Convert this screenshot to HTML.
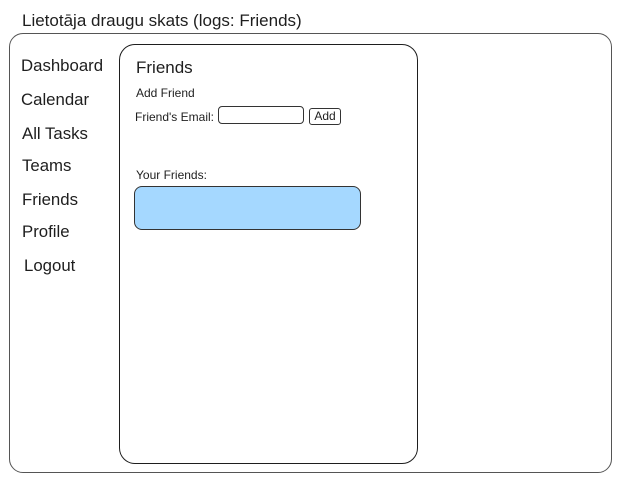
<!DOCTYPE html>
<html><head><meta charset="utf-8"><style>
body{margin:0;width:623px;height:485px;background:#fff;position:relative;overflow:hidden;font-family:"Liberation Sans",sans-serif;color:#1e1e1e}
.a{position:absolute;white-space:nowrap}
.b{position:absolute;box-sizing:border-box}
.n{font-size:16.8px}
</style></head><body>
<div class="a" style="left:22px;top:11px;font-size:17px">Lietotāja draugu skats (logs: Friends)</div>
<div class="b" style="left:9px;top:33px;width:603px;height:440px;border:1.3px solid #555;border-radius:14px"></div>
<div class="b" style="left:119px;top:44px;width:299px;height:420px;border:1.5px solid #1e1e1e;border-radius:16px"></div>
<div class="a n" style="left:21px;top:56px">Dashboard</div>
<div class="a n" style="left:21px;top:90px">Calendar</div>
<div class="a n" style="left:22px;top:124px">All Tasks</div>
<div class="a n" style="left:22px;top:156px">Teams</div>
<div class="a n" style="left:22px;top:190px">Friends</div>
<div class="a n" style="left:22px;top:222px">Profile</div>
<div class="a n" style="left:24px;top:256px">Logout</div>
<div class="a" style="left:136px;top:58px;font-size:17px">Friends</div>
<div class="a" style="left:136px;top:86px;font-size:12px">Add Friend</div>
<div class="a" style="left:135px;top:110px;font-size:12px">Friend's Email:</div>
<div class="b" style="left:218px;top:106px;width:86px;height:18px;border:1px solid #333;border-radius:4px"></div>
<div class="b" style="left:309px;top:108px;width:32px;height:17px;border:1px solid #333;border-radius:3px;font-size:12px;text-align:center;line-height:15px">Add</div>
<div class="a" style="left:136px;top:168px;font-size:12px">Your Friends:</div>
<div class="b" style="left:134px;top:186px;width:227px;height:44px;border:1.3px solid #333;border-radius:8px;background:#a5d8ff"></div>
</body></html>
